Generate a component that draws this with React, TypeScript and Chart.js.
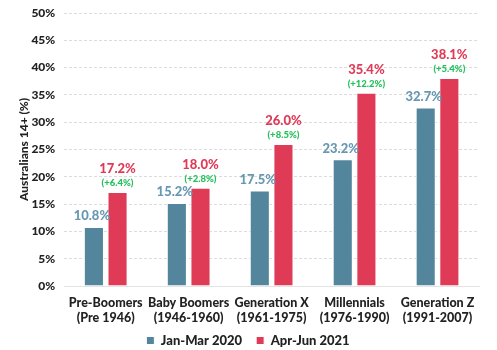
import React, { useEffect, useRef } from "react";
import { Chart, registerables } from "chart.js";

Chart.register(...registerables);

const categories: string[][] = [
  ["Pre-Boomers", "(Pre 1946)"],
  ["Baby Boomers", "(1946-1960)"],
  ["Generation X", "(1961-1975)"],
  ["Millennials", "(1976-1990)"],
  ["Generation Z", "(1991-2007)"],
];
const seriesNames = ["Jan-Mar 2020", "Apr-Jun 2021"];
const jan2020 = [10.8, 15.2, 17.5, 23.2, 32.7];
const apr2021 = [17.2, 18.0, 26.0, 35.4, 38.1];
const changeLabels = ["(+6.4%)", "(+2.8%)", "(+8.5%)", "(+12.2%)", "(+5.4%)"];
const yTicks = [0, 5, 10, 15, 20, 25, 30, 35, 40, 45, 50];

const BLUE = "#53869c";
const BLUE_TEXT = "#6798b2";
const RED = "#e03b56";
const GREEN = "#22c05a";
const FONT = "Lato, 'Open Sans', sans-serif";

const labelPlugin = {
  id: "barLabels",
  afterLayout(chart: any) {
    // keep the two-line category labels from being clipped by the shortened axis box
    chart.scales.x.bottom += 16;
  },
  afterDatasetsDraw(chart: any) {
    const ctx = chart.ctx;
    ctx.save();
    ctx.textAlign = "center";
    ctx.textBaseline = "middle";
    const m0 = chart.getDatasetMeta(0);
    const m1 = chart.getDatasetMeta(1);
    m0.data.forEach((bar: any, i: number) => {
      ctx.font = `900 13px ${FONT}`;
      ctx.fillStyle = BLUE_TEXT;
      ctx.fillText(jan2020[i].toFixed(1) + "%", bar.x - 2, bar.y - 11);
    });
    m1.data.forEach((bar: any, i: number) => {
      ctx.font = `900 13px ${FONT}`;
      ctx.fillStyle = RED;
      ctx.fillText(apr2021[i].toFixed(1) + "%", bar.x, bar.y - 23);
      ctx.font = `900 9.5px ${FONT}`;
      ctx.fillStyle = GREEN;
      ctx.fillText(changeLabels[i], bar.x, bar.y - 9);
    });
    ctx.restore();
  },
};

export default function App() {
  const ref = useRef<HTMLCanvasElement>(null);
  useEffect(() => {
    document.body.style.margin = "0";
    const chart = new Chart(ref.current!, {
      type: "bar",
      data: {
        labels: categories,
        datasets: [
          {
            label: seriesNames[0],
            data: jan2020,
            backgroundColor: BLUE,
            borderColor: "#ffffff",
            borderWidth: 1,
          },
          {
            label: seriesNames[1],
            data: apr2021,
            backgroundColor: RED,
            borderColor: "#ffffff",
            borderWidth: 1,
          },
        ],
      },
      options: {
        animation: false,
        responsive: false,
        maintainAspectRatio: false,
        layout: { padding: { top: 13, right: 18, left: 17, bottom: -7 } },
        datasets: {
          bar: { categoryPercentage: 0.57, barPercentage: 0.85 },
        },
        plugins: {
          legend: {
            position: "bottom",
            labels: {
              boxWidth: 8,
              boxHeight: 8,
              padding: 14,
              color: "#222",
              font: { family: FONT, weight: "900", size: 13, lineHeight: 1 },
            },
          },
          tooltip: { enabled: false },
        },
        scales: {
          x: {
            grid: { display: false, drawTicks: false },
            border: { display: true, color: "#e3e3e3" },
            afterFit: (scale: any) => {
              scale.height -= 14;
            },
            ticks: {
              color: "#222",
              padding: 9,
              maxRotation: 0,
              autoSkip: false,
              font: { family: FONT, weight: "900", size: 12.5, lineHeight: 1.2 },
            },
          },
          y: {
            min: 0,
            max: 50,
            afterBuildTicks: (axis: any) => {
              axis.ticks = yTicks.map((v) => ({ value: v }));
            },
            grid: { color: "#dcdcdc", drawTicks: false },
            border: { display: false, dash: [3, 2] },
            ticks: {
              color: "#222",
              padding: 9,
              callback: (v: any) => v + "%",
              font: { family: FONT, weight: "900", size: 12, lineHeight: 0.6 },
            },
            title: {
              display: true,
              text: "Australians 14+ (%)",
              color: "#222",
              padding: { top: 0, bottom: -9 },
              font: { family: FONT, weight: "900", size: 12 },
            },
          },
        },
      },
      plugins: [labelPlugin],
    });
    return () => chart.destroy();
  }, []);
  return (
    <div style={{ width: 497, height: 350 }}>
      <canvas ref={ref} width={497} height={350} />
    </div>
  );
}
